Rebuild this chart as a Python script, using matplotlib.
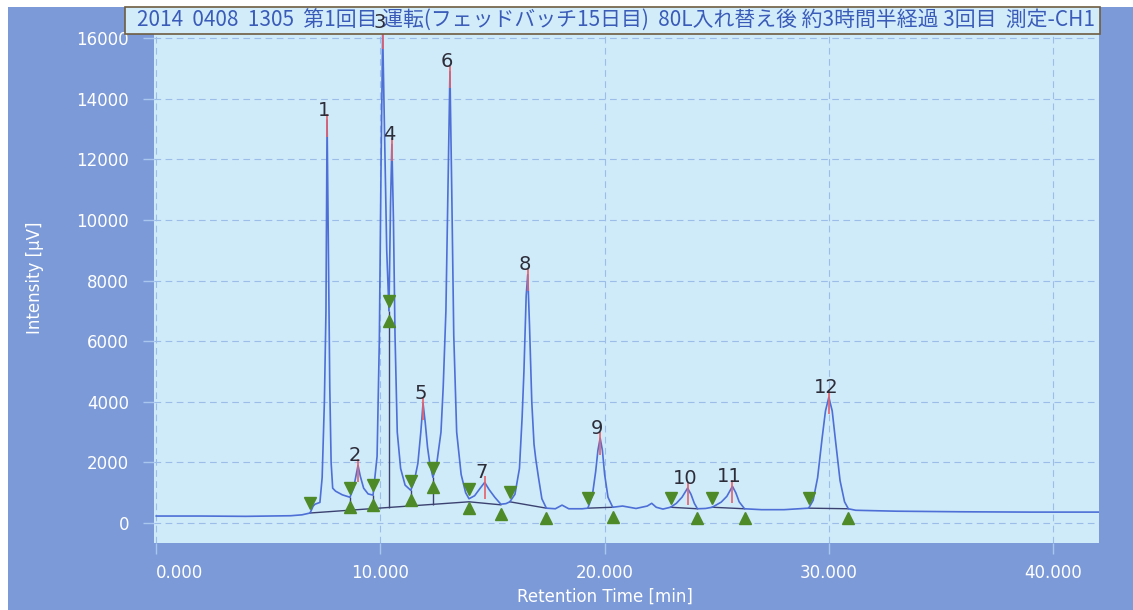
import numpy as np
import matplotlib
matplotlib.use("Agg")
import matplotlib.pyplot as plt
from matplotlib.patches import Rectangle
from matplotlib.transforms import offset_copy

# chromatogram trace (min, µV)
trace_time = [0.0, 2.0, 4.0, 6.0, 6.5, 6.86, 7.0, 7.08, 7.3, 7.4,
              7.5, 7.57, 7.62, 7.68, 7.74, 7.8, 7.87, 8.0, 8.3, 8.64,
              8.8, 8.92, 9.0, 9.1, 9.25, 9.45, 9.67, 9.85, 9.95, 10.03,
              10.1, 10.18, 10.28, 10.38, 10.45, 10.51, 10.58, 10.65, 10.75, 10.9,
              11.1, 11.35, 11.5, 11.67, 11.8, 11.9, 12.0, 12.1, 12.2, 12.34,
              12.5, 12.7, 12.8, 12.92, 13.0, 13.1, 13.18, 13.27, 13.4, 13.6,
              13.8, 13.95, 14.2, 14.45, 14.65, 14.85, 15.1, 15.37, 15.6, 15.77,
              16.0, 16.2, 16.32, 16.4, 16.5, 16.57, 16.65, 16.75, 16.85, 16.93,
              17.05, 17.2, 17.4, 17.8, 18.1, 18.4, 19.0, 19.25, 19.45, 19.6,
              19.7, 19.8, 19.9, 20.0, 20.15, 20.36, 20.8, 21.4, 21.9, 22.1,
              22.3, 22.6, 22.94, 23.2, 23.45, 23.7, 23.85, 24.0, 24.14, 24.5,
              24.8, 25.2, 25.45, 25.7, 25.85, 26.0, 26.24, 27.0, 28.0, 29.1,
              29.3, 29.5, 29.7, 29.85, 30.0, 30.15, 30.3, 30.5, 30.7, 30.87,
              31.2, 33.0, 36.0, 39.0, 42.2]
trace_uv = [230, 230, 220, 240, 270, 330, 560, 620, 680, 1500,
            4000, 7000, 13300, 9000, 4500, 2000, 1150, 1050, 930, 850,
            1150, 1600, 1900, 1550, 1150, 960, 920, 2200, 6000, 12000,
            16200, 13000, 9000, 7000, 10500, 12500, 10000, 6200, 3000, 1800,
            1250, 1080, 1350, 1970, 3000, 3950, 3300, 2500, 1970, 1510,
            1900, 3000, 4500, 7000, 10500, 14900, 11000, 6200, 3000, 1600,
            1000, 800, 900, 1150, 1340, 1100, 850, 620, 640, 700,
            950, 1800, 3500, 5000, 7500, 8200, 6500, 4000, 2600, 2100,
            1500, 800, 490, 470, 590, 470, 470, 490, 900, 1700,
            2400, 2800, 2400, 1600, 850, 520, 560, 480, 560, 650,
            520, 460, 520, 650, 850, 1150, 950, 650, 470, 480,
            520, 690, 880, 1210, 1000, 700, 470, 440, 440, 490,
            750, 1500, 2800, 3700, 4150, 3700, 2700, 1400, 700, 470,
            420, 390, 370, 360, 360]

# detected peaks
peak_no = ["1", "2", "3", "4", "5", "6", "7", "8", "9", "10", "11", "12"]
peak_time = [7.62, 9.0, 10.1, 10.51, 11.9, 13.1, 14.65, 16.57, 19.8, 23.7, 25.7, 30.0]
peak_uv = [13300, 1900, 16200, 12500, 3950, 14900, 1340, 8200, 2800, 1150, 1210, 4150]

# peak start (down triangle) and end (up triangle) points
start_time = [6.86, 8.64, 9.67, 10.38, 11.35, 12.34, 13.95, 15.77, 19.25, 22.94, 24.8, 29.1]
start_uv = [330, 850, 920, 7000, 1080, 1510, 800, 700, 490, 520, 520, 490]
end_time = [8.64, 9.67, 10.38, 11.35, 12.34, 13.95, 15.37, 17.4, 20.36, 24.14, 26.24, 30.87]
end_uv = [850, 920, 7000, 1080, 1510, 800, 620, 490, 520, 470, 470, 470]

# integration baseline (nan splits the segments)
base_time = [6.86, 13.95, 15.37, np.nan, 15.77, 17.4, np.nan, 19.25, 20.36, np.nan,
             22.94, 24.14, np.nan, 24.8, 26.24, np.nan, 29.1, 30.87]
base_uv = [330, 700, 600, np.nan, 700, 490, np.nan, 490, 520, np.nan,
           520, 470, np.nan, 520, 470, np.nan, 490, 470]

# perpendicular drops between fused peaks
drop_time = [8.64, 9.67, 10.38, 11.35, 12.34]
drop_top = [850, 920, 7000, 1080, 1510]
drop_base = [420, 480, 510, 560, 610]

x_ticks = [0, 10, 20, 30, 40]
y_ticks = [0, 2000, 4000, 6000, 8000, 10000, 12000, 14000, 16000]

title = "2014  0408  1305  第1回目 運転(フェッドバッチ15日目)  80L入れ替え後 約3時間半経過 3回目  測定-CH1"

outer = "#7c9ad8"
inner = "#cfeaf9"
W, H = 1133, 610

fig = plt.figure(figsize=(W / 100, H / 100), dpi=100, facecolor="white")
fig.add_artist(Rectangle((8 / W, 0), 1, 603 / H, transform=fig.transFigure,
                         facecolor=outer, edgecolor="none", zorder=-5))

ax = fig.add_axes([154 / W, 67 / H, 945 / W, 535 / H])
ax.set_facecolor(inner)
for s in ax.spines.values():
    s.set_visible(False)

ax.set_xlim(-0.1, 42.05)
ax.set_ylim(-660, 17000)
ax.set_xticks(x_ticks, [f"{v:.3f}" for v in x_ticks])
ax.set_yticks(y_ticks, [str(v) for v in y_ticks])
ax.get_xticklabels()[0].set_horizontalalignment("left")
ax.tick_params(colors="#a9c6ee", labelcolor="white", labelsize=12, length=8, width=1)
ax.tick_params(axis="y", pad=10)
ax.tick_params(axis="x", pad=7)
ax.grid(color="#9dbde9", linestyle=(0, (6, 4)), linewidth=0.8)
ax.set_axisbelow(True)

# trace, baseline, drops
ax.plot(trace_time, trace_uv, color="#4d6fd6", lw=1.2, zorder=3)
ax.plot(base_time, base_uv, color="#3b4270", lw=1.0, zorder=2)
ax.vlines(drop_time, drop_base, drop_top, color="#3b4270", lw=1.0, zorder=2)

# red apex marks
ax.vlines(peak_time, [h - 550 for h in peak_uv], [h + 200 for h in peak_uv],
          color="#e8606a", lw=1.2, zorder=4)

# start / end triangles
down_tr = offset_copy(ax.transData, fig=fig, x=0, y=7, units="points")
up_tr = offset_copy(ax.transData, fig=fig, x=0, y=-7, units="points")
ax.plot(start_time, start_uv, "v", ms=9, color="#4f8a28", transform=down_tr, zorder=5, clip_on=False)
ax.plot(end_time, end_uv, "^", ms=9, color="#4f8a28", transform=up_tr, zorder=5, clip_on=False)

# title box
ax.add_patch(Rectangle((-0.0307, 0.951), 1.0317, 0.0505, transform=ax.transAxes,
                       facecolor="#d3ecfa", edgecolor="#6e5d40", lw=1.2,
                       clip_on=False, zorder=8))
ax.text(-0.018, 0.9766, title, transform=ax.transAxes, ha="left", va="center",
        fontsize=15, color="#3a5cb8", zorder=9,
        family=["Noto Sans CJK JP", "DejaVu Sans"])

# peak numbers
lab_tr = offset_copy(ax.transData, fig=fig, x=-2, y=3, units="points")
for n, t, h in zip(peak_no, peak_time, peak_uv):
    ax.text(t, h, n, transform=lab_tr, ha="center", va="baseline",
            fontsize=14, color="#2d2d3a", zorder=10, clip_on=False)

fig.text(35 / W, 1 - 278 / H, "Intensity [µV]", rotation=90, color="white",
         fontsize=12, ha="center", va="center")
fig.text(605 / W, 1 - 597 / H, "Retention Time [min]", color="white",
         fontsize=12, ha="center", va="center")

fig.savefig("out.png", dpi=100, facecolor="white")
